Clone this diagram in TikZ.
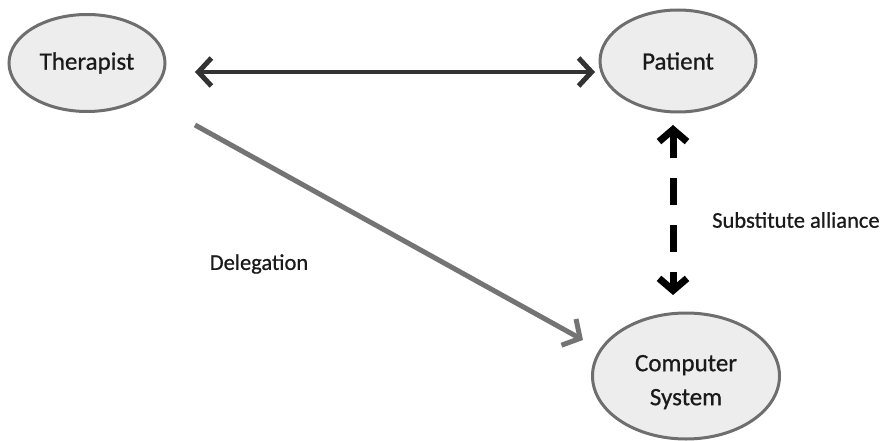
\documentclass[tikz,border=0pt]{standalone}
\usepackage{fontspec}
\setmainfont{Carlito}
\newfontfamily\diagfont{Carlito}[FakeBold=0.7]
\usetikzlibrary{arrows.meta,calc,shapes.geometric}
\definecolor{txt}{HTML}{1A1A1A}
\definecolor{efill}{HTML}{EDEDED}
\definecolor{eline}{HTML}{6E6E6E}
\definecolor{harrow}{HTML}{333333}
\definecolor{darrow}{HTML}{747474}
\tikzset{
  ell/.style={ellipse, draw=eline, fill=efill, line width=3pt, inner sep=0pt,
    text=txt, font=\diagfont\fontsize{25}{32}\selectfont, align=center},
  lbl/.style={text=txt, font=\diagfont\fontsize{22.5}{27}\selectfont, inner sep=0pt},
  harr/.style={draw=harrow, line width=4.5pt,
    {Straight Barb[length=13pt,width=28pt,line width=5pt]}-{Straight Barb[length=13pt,width=28pt,line width=5pt]}},
  darr/.style={draw=darrow, line width=5pt, -{Straight Barb[length=13pt,width=30pt,line width=5pt]}},
  sarr/.style={draw=black, line width=7pt, dash pattern=on 27pt off 20pt, dash phase=2pt,
    {Straight Barb[length=12pt,width=28pt,line width=7pt]}-{Straight Barb[length=12pt,width=28pt,line width=7pt]}},
}
\begin{document}
\begin{tikzpicture}[x=1pt,y=-1pt]
\useasboundingbox (0,0) rectangle (880,441);
\node[ell, minimum width=156pt, minimum height=97pt] (T) at (87,63) {Therapist};
\node[ell, minimum width=156pt, minimum height=102pt] (P) at (678,61) {Patient};
\node[ell, minimum width=187pt, minimum height=126pt] (C) at (686,376)
  {\begin{tabular}{@{}c@{}}\rule{0pt}{34pt}Computer\\[2pt]System\end{tabular}};
\coordinate (h1) at ($(T.center)+(108,9)$);
\coordinate (h2) at ($(P.center)+(-83,11)$);
\draw[harr] (h1) -- (h2);
\coordinate (d1) at ($(T.center)+(108,62)$);
\coordinate (d2) at ($(C.center)+(-103,-36)$);
\draw[darr] (d1) -- (d2);
\coordinate (s1) at ($(P.center)+(-5,64)$);
\coordinate (s2) at ($(C.center)+(-13,-81)$);
\draw[sarr] (s1) -- (s2);
\node[lbl] (dl) at (259,264) {Delegation};
\node[lbl, anchor=west] (sl) at (712,220) {Substitute alliance};
\end{tikzpicture}
\end{document}
